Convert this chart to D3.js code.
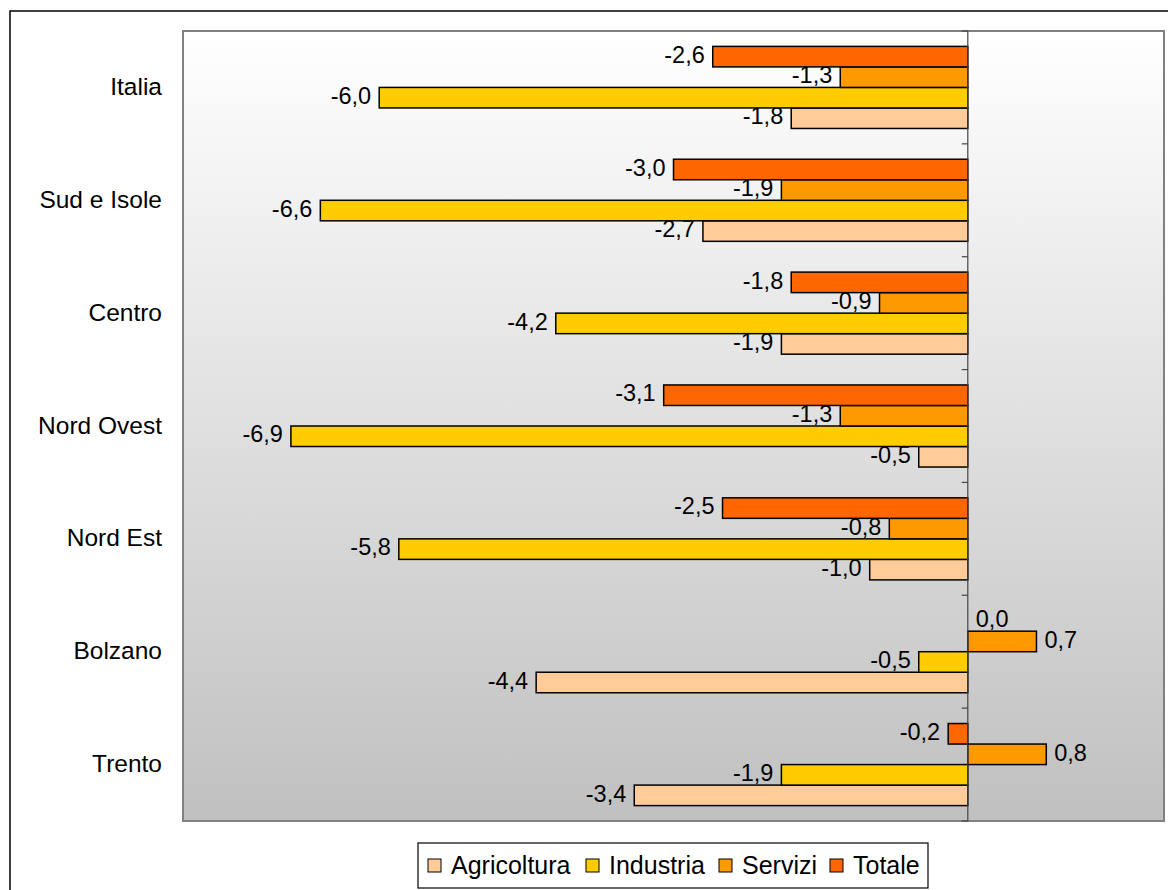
<!DOCTYPE html>
<html>
<head>
<meta charset="utf-8">
<script src="https://cdn.jsdelivr.net/npm/d3@7"></script>
<style>
  body { margin: 0; background: #fff; }
  text { font-family: "Liberation Sans", Arial, sans-serif; fill: #000; }
</style>
</head>
<body>
<svg width="1168" height="890"></svg>
<script>
// Data
var regions = ["Italia", "Sud e Isole", "Centro", "Nord Ovest", "Nord Est", "Bolzano", "Trento"];
var seriesNames = ["Agricoltura", "Industria", "Servizi", "Totale"];
var agricoltura = [-1.8, -2.7, -1.9, -0.5, -1.0, -4.4, -3.4];
var industria = [-6.0, -6.6, -4.2, -6.9, -5.8, -0.5, -1.9];
var servizi = [-1.3, -1.9, -0.9, -1.3, -0.8, 0.7, 0.8];
var totale = [-2.6, -3.0, -1.8, -3.1, -2.5, 0.0, -0.2];
var colors = ["#ffcc99", "#ffcc00", "#ff9900", "#ff6600"];

var values = [agricoltura, industria, servizi, totale];

var margin = { top: 31, right: 4, bottom: 69, left: 183 };
var width = 1168 - margin.left - margin.right;
var height = 890 - margin.top - margin.bottom;

var svg = d3.select("svg");

// outer frame
svg.append("rect")
    .attr("x", 10).attr("y", 11)
    .attr("width", 1170).attr("height", 900)
    .attr("fill", "none").attr("stroke", "#000").attr("stroke-width", 1.5);

// gradient
var grad = svg.append("defs").append("linearGradient")
    .attr("id", "bg").attr("x1", 0).attr("y1", 0).attr("x2", 0).attr("y2", 1);
grad.append("stop").attr("offset", "0%").attr("stop-color", "#ffffff");
grad.append("stop").attr("offset", "100%").attr("stop-color", "#c0c0c0");

var g = svg.append("g")
    .attr("transform", "translate(" + margin.left + "," + margin.top + ")");

g.append("rect")
    .attr("width", width).attr("height", height)
    .attr("fill", "url(#bg)")
    .attr("stroke", "#808080").attr("stroke-width", 2);

// scales
var xScale = d3.scaleLinear().domain([-8, 2]).range([0, width]);
var yScale = d3.scaleBand().domain(regions).range([0, height]).padding(0);
var inner = d3.scaleBand()
    .domain(["Totale", "Servizi", "Industria", "Agricoltura"])
    .range([0, yScale.bandwidth()])
    .paddingOuter(0.75).paddingInner(0);

// category labels
g.selectAll(".cat")
    .data(regions)
    .enter().append("text")
    .attr("x", -21)
    .attr("y", function(d) { return yScale(d) + yScale.bandwidth() / 2 - 1; })
    .attr("dy", "0.35em")
    .attr("text-anchor", "end")
    .attr("font-size", "24.5px")
    .text(function(d) { return d; });

// bars
var fmt = function(v) { return v.toFixed(1).replace(".", ","); };
seriesNames.forEach(function(name, si) {
    var sg = g.append("g");
    var rows = regions.map(function(r, i) { return { region: r, value: values[si][i] }; });
    sg.selectAll("rect")
        .data(rows)
        .enter().append("rect")
        .attr("x", function(d) { return xScale(Math.min(0, d.value)); })
        .attr("y", function(d) { return yScale(d.region) + inner(name); })
        .attr("width", function(d) { return Math.abs(xScale(d.value) - xScale(0)); })
        .attr("height", inner.bandwidth())
        .attr("fill", colors[si])
        .attr("stroke", "#000").attr("stroke-width", 1.5);
    sg.selectAll("text")
        .data(rows)
        .enter().append("text")
        .attr("x", function(d) { return d.value < 0 ? xScale(d.value) - 8 : xScale(d.value) + 8; })
        .attr("y", function(d) { return yScale(d.region) + inner(name) + inner.bandwidth() / 2 - 2; })
        .attr("dy", "0.35em")
        .attr("text-anchor", function(d) { return d.value < 0 ? "end" : "start"; })
        .attr("font-size", "23.5px")
        .text(function(d) { return fmt(d.value); });
});

// zero axis
g.append("line")
    .attr("x1", xScale(0)).attr("x2", xScale(0))
    .attr("y1", 0).attr("y2", height)
    .attr("stroke", "#444").attr("stroke-width", 1.2);
g.selectAll(".tk")
    .data(d3.range(regions.length + 1))
    .enter().append("line")
    .attr("x1", xScale(0) - 6).attr("x2", xScale(0))
    .attr("y1", function(i) { return i * yScale.step(); })
    .attr("y2", function(i) { return i * yScale.step(); })
    .attr("stroke", "#444").attr("stroke-width", 1.2);

// legend
var legend = svg.append("g").attr("transform", "translate(418,843)");
legend.append("rect")
    .attr("width", 510).attr("height", 45)
    .attr("fill", "#fff").attr("stroke", "#000").attr("stroke-width", 1.2);
var legX = [10, 168, 301, 412];
seriesNames.forEach(function(name, i) {
    var item = legend.append("g").attr("transform", "translate(" + legX[i] + ",0)");
    item.append("rect")
        .attr("x", 0).attr("y", 16).attr("width", 13).attr("height", 13)
        .attr("fill", colors[i]).attr("stroke", "#000").attr("stroke-width", 1);
    item.append("text")
        .attr("x", 23).attr("y", 22).attr("dy", "0.35em")
        .attr("font-size", "25px")
        .text(name);
});
</script>
</body>
</html>
